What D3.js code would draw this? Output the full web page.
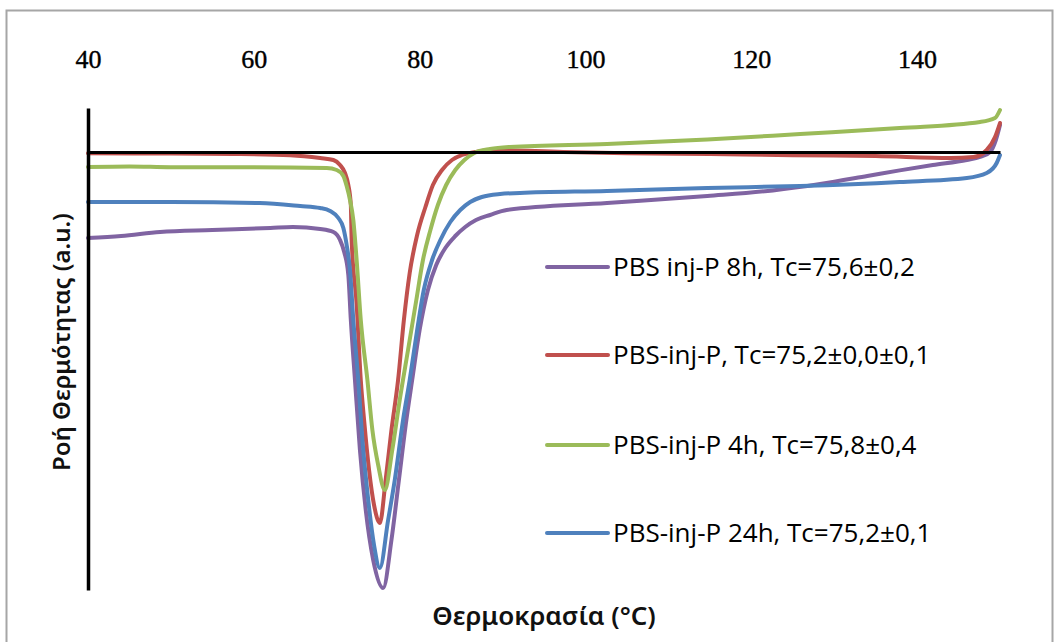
<!DOCTYPE html>
<html>
<head>
<meta charset="utf-8">
<script src="https://cdn.jsdelivr.net/npm/d3@7"></script>
<style>
  html, body { margin: 0; padding: 0; background: #fff; }
  svg { display: block; }
</style>
</head>
<body>
<svg id="chart" width="1059" height="642"></svg>
<script>
// DSC cooling scans: heat flow (a.u.) vs temperature (°C)
const xTicks = [40, 60, 80, 100, 120, 140];

const seriesNames = [
  "PBS inj-P 8h, Tc=75,6\u00B10,2",
  "PBS-inj-P, Tc=75,2\u00B10,0\u00B10,1",
  "PBS-inj-P 4h, Tc=75,8\u00B10,4",
  "PBS-inj-P 24h, Tc=75,2\u00B10,1"
];
const seriesColors = ["#8064A2", "#C0504D", "#9BBB59", "#4F81BD"];

// PBS inj-P 8h
const s8hT = [40, 44, 48.7, 55, 62, 64.7, 68.0, 69.6, 70.4, 70.9, 71.4, 71.7, 72.2, 72.8, 73.5, 74.4, 75.6, 76.6, 77.5, 78.4, 79.1, 80.0, 81.0, 82.0, 83.1, 84.3, 85.5, 86.8, 88.5, 90.5, 102.6, 114.7, 122.6, 128.3, 134.0, 137.9, 141.9, 146.0, 147.6, 148.8, 149.5, 150];
const s8hQ = [-2.15, -2.1, -2.0, -1.95, -1.9, -1.875, -1.925, -2.0, -2.2, -2.5, -3.075, -4.2, -5.7, -7.45, -8.95, -10.2, -10.9, -9.7, -8.2, -6.7, -5.7, -4.45, -3.45, -2.825, -2.4, -2.1, -1.875, -1.7, -1.575, -1.45, -1.275, -1.1, -0.96, -0.8, -0.6, -0.46, -0.325, -0.2, -0.125, 0, 0.3, 0.675];

// PBS-inj-P
const s0hT = [40, 50, 57.5, 64.4, 68.0, 69.6, 70.4, 71.0, 71.4, 71.7, 71.8, 72.4, 72.9, 73.3, 73.9, 74.5, 75.2, 75.9, 76.6, 77.4, 78.1, 78.8, 79.7, 80.7, 81.6, 82.7, 83.9, 85.1, 86.7, 88.5, 97.3, 105, 115, 125, 135, 144, 146.8, 148.4, 149.4, 150];
const s0hQ = [-0.03, -0.04, -0.05, -0.08, -0.15, -0.2, -0.325, -0.525, -0.825, -1.325, -2.2, -3.8, -5.7, -6.7, -7.95, -8.825, -9.275, -8.2, -6.95, -5.7, -4.2, -3.025, -2.075, -1.375, -0.825, -0.45, -0.2, -0.075, 0, 0.05, 0, -0.03, -0.05, -0.08, -0.1, -0.15, -0.125, 0.05, 0.375, 0.725];

// PBS-inj-P 4h
const s4hT = [40, 45, 50, 60, 68.8, 70.0, 70.8, 71.2, 71.6, 72.0, 72.4, 72.9, 73.7, 74.3, 75.0, 75.8, 76.7, 77.6, 78.6, 79.6, 80.4, 81.3, 82.2, 83.2, 84.3, 85.4, 86.6, 88.5, 90.9, 102.6, 114.7, 125.9, 137.9, 147.6, 149.4, 150];
const s4hQ = [-0.375, -0.36, -0.38, -0.38, -0.4, -0.45, -0.6, -0.85, -1.2, -1.7, -2.7, -4.2, -5.7, -6.95, -7.825, -8.45, -7.45, -6.2, -4.95, -3.7, -2.7, -1.95, -1.325, -0.825, -0.45, -0.2, -0.025, 0.075, 0.125, 0.2, 0.3125, 0.45, 0.6, 0.75, 0.85, 1.05];

// PBS-inj-P 24h
const s24hT = [40, 50, 60.7, 65.6, 68.0, 69.2, 70.2, 70.8, 71.2, 71.6, 72.0, 72.6, 73.1, 73.8, 74.5, 75.2, 76.2, 77.0, 78.0, 78.8, 79.7, 80.5, 81.5, 82.5, 83.7, 84.9, 86.1, 87.5, 89.7, 92.1, 102.6, 114.7, 125.9, 137.9, 146.0, 148.4, 149.6, 150];
const s24hQ = [-1.25, -1.25, -1.275, -1.35, -1.4, -1.475, -1.65, -1.9, -2.325, -2.95, -4.2, -5.7, -7.2, -8.7, -9.825, -10.4, -9.2, -8.2, -6.7, -5.7, -4.45, -3.45, -2.7, -2.2, -1.75, -1.45, -1.25, -1.125, -1.05, -1.025, -0.975, -0.9, -0.85, -0.75, -0.65, -0.525, -0.275, -0.075];

const seriesT = [s8hT, s0hT, s4hT, s24hT];
const seriesQ = [s8hQ, s0hQ, s4hQ, s24hQ];

const svg = d3.select("#chart");

// outer chart frame
svg.append("rect")
  .attr("x", 6.5).attr("y", 10.5)
  .attr("width", 1046).attr("height", 700)
  .attr("fill", "#fff")
  .attr("stroke", "#a6a6a6")
  .attr("stroke-width", 2);

const x = d3.scaleLinear().domain([40, 150]).range([88, 1000]);
const y = d3.scaleLinear().domain([-10.95, 1.1]).range([590, 108]);

// temperature labels along the top
const topAxis = svg.append("g")
  .attr("transform", "translate(0,68)")
  .call(d3.axisTop(x).tickValues(xTicks).tickSize(0).tickPadding(0).tickFormat(d3.format("d")));
topAxis.select(".domain").remove();
topAxis.selectAll("text")
  .attr("font-family", "'Liberation Serif', serif")
  .attr("font-size", 26)
  .attr("fill", "#000")
  .attr("stroke", "#000")
  .attr("stroke-width", 0.4);

// curves
const line = d3.line()
  .x(d => x(d[0]))
  .y(d => y(d[1]))
  .curve(d3.curveMonotoneX);

seriesT.forEach((ts, i) => {
  const pts = ts.map((t, k) => [t, seriesQ[i][k]]);
  svg.append("path")
    .datum(pts)
    .attr("d", line)
    .attr("fill", "none")
    .attr("stroke", seriesColors[i])
    .attr("stroke-width", 4)
    .attr("stroke-linejoin", "round")
    .attr("stroke-linecap", "round");
});

// zero heat-flow line and vertical axis
const zeroAxis = svg.append("g")
  .attr("transform", `translate(0,${y(0)})`)
  .call(d3.axisBottom(x).tickValues([]).tickSizeOuter(0));
zeroAxis.select(".domain").attr("stroke", "#000").attr("stroke-width", 3);

const leftAxis = svg.append("g")
  .attr("transform", `translate(${x(40)},0)`)
  .call(d3.axisLeft(y).tickValues([]).tickSizeOuter(0));
leftAxis.select(".domain").attr("stroke", "#000").attr("stroke-width", 3.5);

// axis titles
svg.append("text")
  .attr("x", 544).attr("y", 625)
  .attr("text-anchor", "middle")
  .attr("font-family", "'Noto Sans', sans-serif")
  .attr("font-weight", 600)
  .attr("font-size", 26)
  .attr("fill", "#111")
  .text("Θερμοκρασία (°C)");

svg.append("text")
  .attr("transform", "translate(70,342) rotate(-90)")
  .attr("text-anchor", "middle")
  .attr("font-family", "'Noto Sans', sans-serif")
  .attr("font-weight", 600)
  .attr("font-size", 24)
  .attr("fill", "#111")
  .text("Ροή Θερμότητας (a.u.)");

// legend
const legendY = [267, 355, 445, 533];
const legend = svg.append("g");
seriesNames.forEach((name, i) => {
  const g = legend.append("g").attr("transform", `translate(547,${legendY[i]})`);
  g.append("line")
    .attr("x1", 0).attr("x2", 61)
    .attr("stroke", seriesColors[i])
    .attr("stroke-width", 4)
    .attr("stroke-linecap", "round");
  g.append("text")
    .attr("x", 66).attr("dy", "0.36em")
    .attr("font-family", "'Open Sans', sans-serif")
    .attr("font-size", 26)
    .attr("fill", "#000")
    .text(name);
});
</script>
</body>
</html>
